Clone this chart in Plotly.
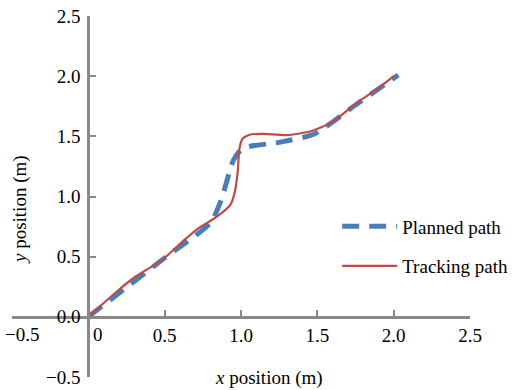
import plotly.graph_objects as go

# ---- data ----
planned_x = [0.0, 0.5, 0.8, 0.87, 0.95, 1.01, 1.25, 1.48, 1.75, 2.03]
planned_y = [0.0, 0.49, 0.78, 0.97, 1.30, 1.40, 1.45, 1.52, 1.76, 2.01]

track_x = [0.0, 0.2, 0.31, 0.48, 0.63, 0.72, 0.84, 0.93, 0.96, 0.978, 0.99, 1.01, 1.06, 1.15, 1.3, 1.45, 1.6, 1.76, 1.9, 2.0]
track_y = [0.0, 0.225, 0.335, 0.47, 0.64, 0.735, 0.83, 0.93, 1.04, 1.2, 1.40, 1.48, 1.515, 1.52, 1.51, 1.54, 1.62, 1.78, 1.9, 2.0]

x_tickvals = [-0.5, 0, 0.5, 1.0, 1.5, 2.0, 2.5]
x_ticktext = ["−0.5", "0", "0.5", "1.0", "1.5", "2.0", "2.5"]
y_tickvals = [-0.5, 0, 0.5, 1.0, 1.5, 2.0, 2.5]
y_ticktext = ["−0.5", "0.0", "0.5", "1.0", "1.5", "2.0", "2.5"]

series_names = ["Planned path", "Tracking path"]

FONT = "Liberation Serif"
AXIS_COLOR = "#898989"
BLUE = "#4a7ebb"
RED = "#be4b48"

# the first two x labels are drawn shifted right (as in the reference) via annotations
x_ticktext_axis = ["", ""] + x_ticktext[2:]

fig = go.Figure()
fig.add_trace(go.Scatter(
    x=planned_x, y=planned_y, mode="lines", name=series_names[0],
    line=dict(color=BLUE, width=5, dash="17px,10px", shape="spline", smoothing=0.6),
    legendgroup="a",
))
fig.add_trace(go.Scatter(
    x=track_x, y=track_y, mode="lines", name=series_names[1],
    line=dict(color=RED, width=2.2, shape="spline", smoothing=0.6),
    legendgroup="b",
))

annotations = [
    dict(text="<i>x</i> position (m)", xref="paper", yref="paper",
         x=0.561, y=-0.003, xanchor="center", yanchor="middle", showarrow=False,
         font=dict(family=FONT, size=19)),
    dict(text="<i>y</i> position (m)", xref="paper", yref="paper",
         x=0.0175, y=0.4626, xanchor="center", yanchor="middle", showarrow=False,
         textangle=-90, font=dict(family=FONT, size=19)),
]
for v, t in zip(x_tickvals[:2], x_ticktext[:2]):
    annotations.append(dict(
        text=t, xref="x", yref="y", x=v, y=0, xanchor="center", yanchor="top",
        xshift=10, yshift=-5, showarrow=False, font=dict(family=FONT, size=19, color="black"),
    ))

fig.update_layout(
    width=516, height=390,
    margin=dict(l=12, r=46, t=16, b=13, autoexpand=False),
    paper_bgcolor="white", plot_bgcolor="white",
    font=dict(family=FONT, size=19, color="black"),
    xaxis=dict(
        range=[-0.5, 2.5], domain=[0, 1], anchor="free", position=1/6,
        showgrid=False, zeroline=False, showline=True, linecolor=AXIS_COLOR, linewidth=3,
        ticks="inside", ticklen=6, tickwidth=2, tickcolor=AXIS_COLOR,
        tickvals=x_tickvals, ticktext=x_ticktext_axis, ticklabeloverflow="allow",
        tickfont=dict(family=FONT, size=19, color="black"),
    ),
    yaxis=dict(
        range=[-0.5, 2.5], domain=[0, 1], anchor="free", position=1/6,
        showgrid=False, zeroline=False, showline=True, linecolor=AXIS_COLOR, linewidth=3,
        ticks="inside", ticklen=6, tickwidth=2, tickcolor=AXIS_COLOR,
        tickvals=y_tickvals, ticktext=y_ticktext, ticklabeloverflow="allow",
        tickfont=dict(family=FONT, size=19, color="black"),
        ticklabelstandoff=3,
    ),
    legend=dict(
        x=0.71, y=0.47, xanchor="left", yanchor="top",
        bgcolor="rgba(0,0,0,0)", font=dict(family=FONT, size=19),
        tracegroupgap=12, itemwidth=55,
    ),
    showlegend=True,
    annotations=annotations,
)

fig.write_html(
    "out.html",
    config={"responsive": False, "displayModeBar": False},
    post_script="document.body.style.margin='0';document.body.style.overflow='hidden';",
)
